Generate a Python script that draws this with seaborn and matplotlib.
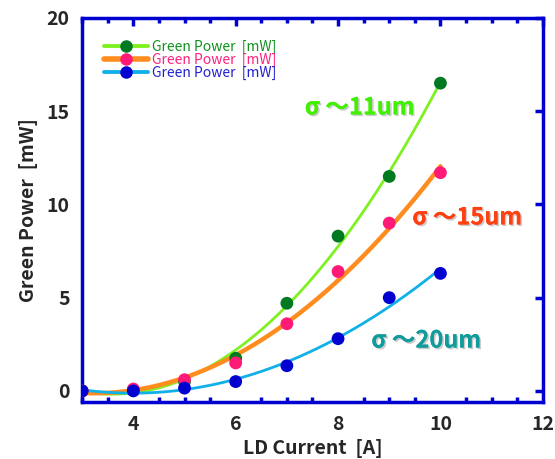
import numpy as np
import pandas as pd
import seaborn as sns
import matplotlib.pyplot as plt
from matplotlib.ticker import MultipleLocator
import matplotlib.patheffects as pe

# datos
corriente = [3, 4, 5, 6, 7, 8, 9, 10]
p_11um = [0.0, 0.05, 0.5, 1.75, 4.7, 8.3, 11.5, 16.5]
p_15um = [0.0, 0.1, 0.6, 1.5, 3.6, 6.4, 9.0, 11.7]
p_20um = [0.0, 0.0, 0.15, 0.5, 1.35, 2.8, 5.0, 6.3]
etiquetas = ['σ ～11um', 'σ ～15um', 'σ ～20um']
nombre_serie = 'Green Power  [mW]'

series = [p_11um, p_15um, p_20um]
col_linea = ['#7FF020', '#FF8C1E', '#10B0E8']
col_punto = ['#007A20', '#FF1A78', '#0000D0']
col_leyenda = ['#109020', '#FF2080', '#2020D0']
col_texto = ['#40F000', '#FF4010', '#109C9C']
ancho = [2.0, 3.2, 2.0]
pos_texto = [(7.35, 15.2), (9.45, 9.3), (8.65, 2.7)]

sns.set_style('white')
plt.rcParams['font.family'] = ['Noto Sans CJK JP', 'DejaVu Sans']
plt.rcParams['font.weight'] = 'bold'

fig = plt.figure(figsize=(5.55, 4.59), dpi=100)
ax = fig.add_axes([0.148, 0.124, 0.830, 0.837])

x_fit = np.linspace(3, 10, 200)
for i, y in enumerate(series):
    # ajuste cuadratico de los puntos
    coef = np.polyfit(corriente, y, 2)
    df_fit = pd.DataFrame({'x': x_fit, 'y': np.polyval(coef, x_fit)})
    sns.lineplot(data=df_fit, x='x', y='y', ax=ax, color=col_linea[i],
                 lw=ancho[i], zorder=2)
for i, y in enumerate(series):
    df = pd.DataFrame({'x': corriente, 'y': y})
    sns.scatterplot(data=df, x='x', y='y', ax=ax, color=col_punto[i],
                    s=85, edgecolor='none', zorder=3)

# leyenda manual
handles = []
for i in range(3):
    h, = ax.plot([], [], color=col_linea[i], lw=ancho[i] + 0.8, marker='o',
                 ms=8, mfc=col_punto[i], mec=col_punto[i])
    handles.append(h)
leg = ax.legend(handles, [nombre_serie] * 3, loc='upper left',
                bbox_to_anchor=(0.02, 0.975), frameon=False, fontsize=10,
                handlelength=3.2, labelspacing=-0.1, handletextpad=0.3)
for t, c in zip(leg.get_texts(), col_leyenda):
    t.set_color(c)
    t.set_fontweight('normal')

for (tx, ty), s, c in zip(pos_texto, etiquetas, col_texto):
    ax.text(tx, ty, s, color=c, fontsize=17, fontweight='bold', va='center',
            path_effects=[pe.withSimplePatchShadow(offset=(1.2, -1.2),
                                                   shadow_rgbFace='#999999', alpha=0.5),
                          pe.Normal()])

ax.set_xlim(3, 12)
ax.set_ylim(-0.6, 20)
ax.xaxis.set_major_locator(MultipleLocator(2))
ax.xaxis.set_minor_locator(MultipleLocator(0.5))
ax.yaxis.set_major_locator(MultipleLocator(5))
ax.set_xticks([4, 6, 8, 10, 12])
ax.set_yticks([0, 5, 10, 15, 20])

azul = '#0000D0'
for s in ax.spines.values():
    s.set_color(azul)
    s.set_linewidth(2.5)
ax.tick_params(which='major', direction='in', length=6, width=2.5, color=azul,
               top=True, right=True, labelsize=14, pad=9)
ax.tick_params(which='minor', direction='in', length=3.5, width=2.5, color=azul,
               top=True, bottom=True)
ax.tick_params(axis='y', which='minor', left=False, right=False)
for lab in ax.get_xticklabels() + ax.get_yticklabels():
    lab.set_fontweight('bold')

ax.set_xlabel('LD Current  [A]', fontsize=14, fontweight='bold', labelpad=4)
ax.set_ylabel('Green Power  [mW]', fontsize=14, fontweight='bold', labelpad=6)

plt.savefig('out.png', dpi=100)
